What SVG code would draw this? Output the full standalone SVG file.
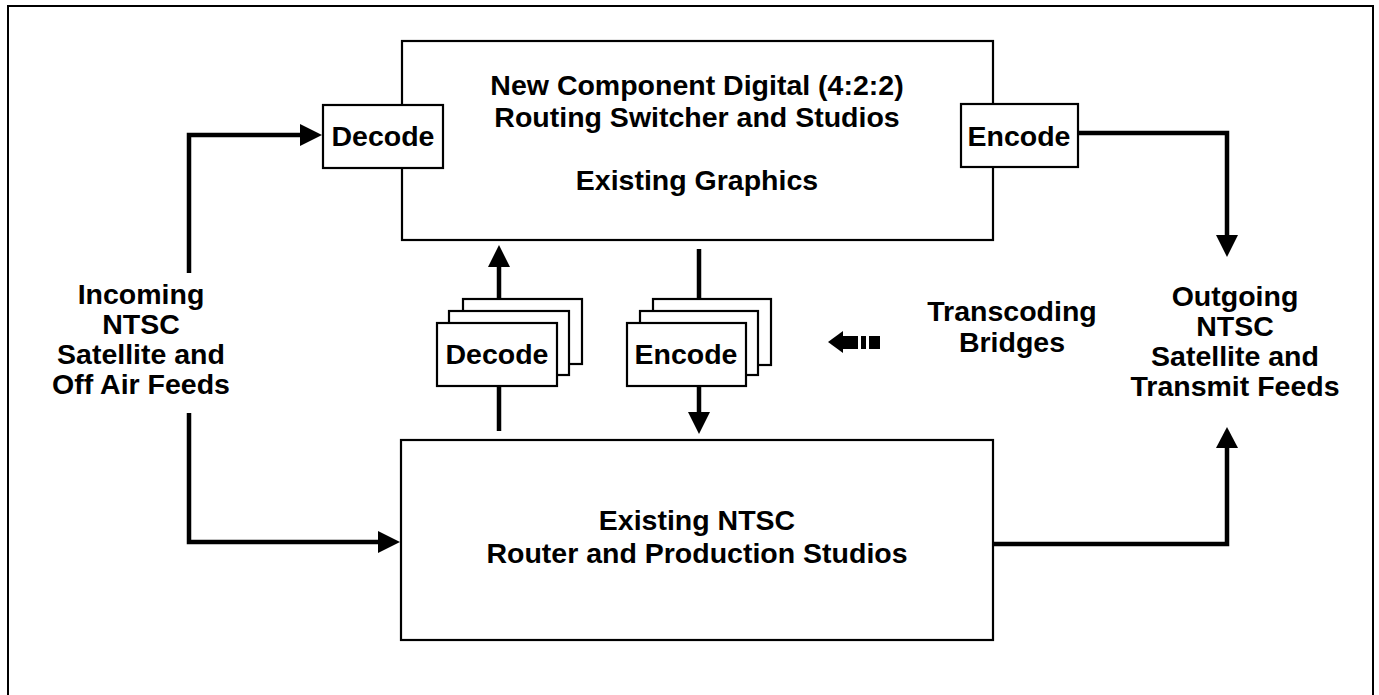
<svg xmlns="http://www.w3.org/2000/svg" width="1379" height="695" viewBox="0 0 1379 695">
<style>
.box{fill:#fff;stroke:#000;stroke-width:2.2}
.t{font-family:"Liberation Sans",Arial,sans-serif;font-weight:bold;font-size:28.5px;fill:#000;text-anchor:middle}
.c{fill:none;stroke:#000;stroke-width:4.5}
.ah{fill:#000}
</style>
<rect x="0" y="0" width="1379" height="695" fill="#fff"/>
<rect id="frame" x="8" y="6" width="1365" height="720" fill="none" stroke="#000" stroke-width="2"/>

<g id="connectors">
  <polyline class="c" points="189,273 189,135 302,135"/>
  <polygon class="ah" points="300,124 322,135 300,146"/>
  <polyline class="c" points="189,413 189,542 380,542"/>
  <polygon class="ah" points="378,531 400,542 378,553"/>
  <polyline class="c" points="993,544 1227,544 1227,446"/>
  <polygon class="ah" points="1216,448 1227,427 1238,448"/>
  <polyline class="c" points="1078,133 1227,133 1227,236"/>
  <polygon class="ah" points="1216,235 1227,257 1238,235"/>
  <line class="c" x1="499" y1="299" x2="499" y2="265"/>
  <polygon class="ah" points="488,267 499,245 510,267"/>
  <line class="c" x1="499" y1="386" x2="499" y2="431"/>
  <line class="c" x1="699" y1="249" x2="699" y2="299"/>
  <line class="c" x1="699" y1="386" x2="699" y2="414"/>
  <polygon class="ah" points="688,412 699,434 710,412"/>
</g>

<g id="top-box">
  <rect class="box" x="402" y="41" width="591" height="199"/>
  <text class="t" x="697" y="95">New Component Digital (4:2:2)</text>
  <text class="t" x="697" y="127">Routing Switcher and Studios</text>
  <text class="t" x="697" y="190">Existing Graphics</text>
</g>

<g id="top-decode">
  <rect class="box" x="323" y="105" width="120" height="63"/>
  <text class="t" x="383" y="146">Decode</text>
</g>

<g id="top-encode">
  <rect class="box" x="961" y="104" width="117" height="63"/>
  <text class="t" x="1019" y="146">Encode</text>
</g>

<g id="bottom-box">
  <rect class="box" x="401" y="440" width="592" height="200"/>
  <text class="t" x="697" y="530">Existing NTSC</text>
  <text class="t" x="697" y="563">Router and Production Studios</text>
</g>

<g id="mid-decode">
  <rect class="box" x="463" y="299" width="119" height="65"/>
  <rect class="box" x="449" y="311" width="120" height="64"/>
  <rect class="box" x="437" y="323" width="120" height="63"/>
  <text class="t" x="497" y="364">Decode</text>
</g>

<g id="mid-encode">
  <rect class="box" x="653" y="299" width="118" height="66"/>
  <rect class="box" x="640" y="311" width="118" height="64"/>
  <rect class="box" x="627" y="323" width="119" height="63"/>
  <text class="t" x="686" y="364">Encode</text>
</g>

<g id="incoming">
  <text class="t" x="141" y="304">Incoming</text>
  <text class="t" x="141" y="334">NTSC</text>
  <text class="t" x="141" y="364">Satellite and</text>
  <text class="t" x="141" y="394">Off Air Feeds</text>
</g>

<g id="outgoing">
  <text class="t" x="1235" y="306">Outgoing</text>
  <text class="t" x="1235" y="336">NTSC</text>
  <text class="t" x="1235" y="366">Satellite and</text>
  <text class="t" x="1235" y="396">Transmit Feeds</text>
</g>

<g id="transcoding">
  <polygon class="ah" points="828,342 843,331 843,353"/>
  <rect class="ah" x="842" y="336" width="16" height="13"/>
  <rect class="ah" x="861" y="336" width="5" height="13"/>
  <rect class="ah" x="869" y="336" width="11" height="13"/>
  <text class="t" x="1012" y="321">Transcoding</text>
  <text class="t" x="1012" y="352">Bridges</text>
</g>
</svg>
